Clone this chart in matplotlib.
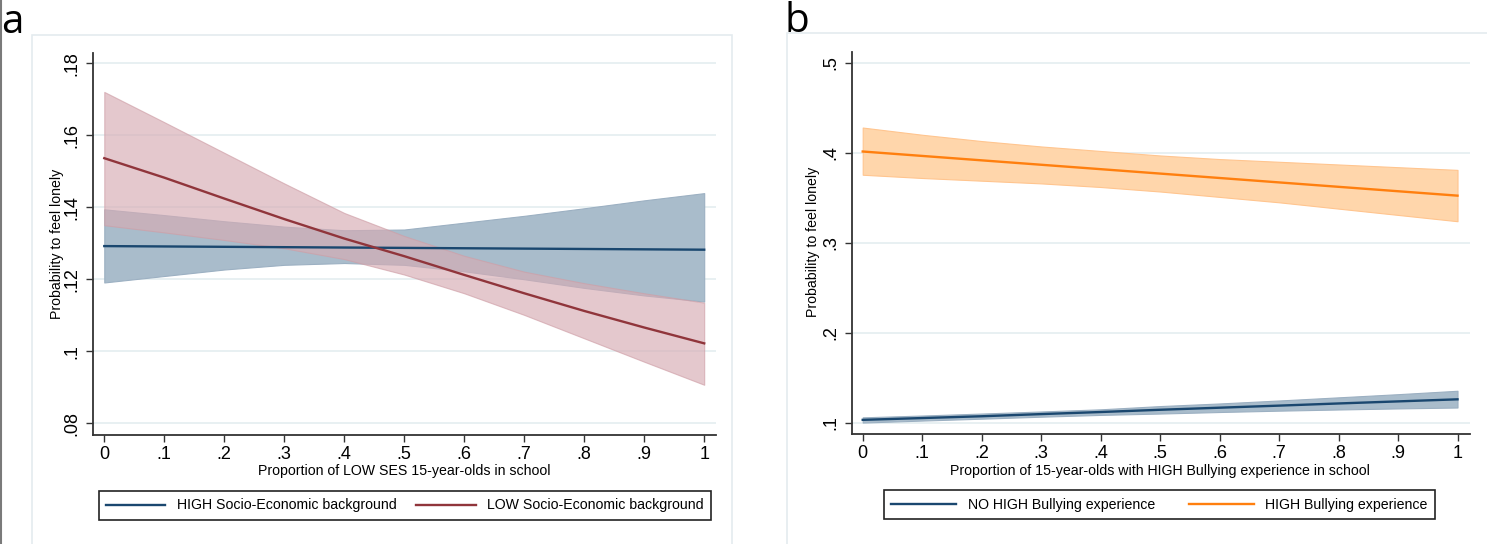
import matplotlib
matplotlib.use("Agg")
import matplotlib.pyplot as plt
from matplotlib.lines import Line2D
from matplotlib.patches import Rectangle

plt.rcParams["font.family"] = ["Liberation Sans", "DejaVu Sans"]

# ---- data ----
x_vals = [0, 0.1, 0.2, 0.3, 0.4, 0.5, 0.6, 0.7, 0.8, 0.9, 1.0]

# panel a: socio-economic background
high_ses = [0.1292, 0.1291, 0.1290, 0.1289, 0.1288, 0.1287, 0.1286, 0.1285, 0.1284, 0.1283, 0.1282]
high_ses_hi = [0.1394, 0.1378, 0.1361, 0.1346, 0.1336, 0.1338, 0.1357, 0.1376, 0.1397, 0.1419, 0.1439]
high_ses_lo = [0.1191, 0.1209, 0.1227, 0.1240, 0.1245, 0.1240, 0.1222, 0.1200, 0.1176, 0.1155, 0.1138]

low_ses = [0.1536, 0.1482, 0.1424, 0.1367, 0.1313, 0.1264, 0.1212, 0.1161, 0.1112, 0.1066, 0.1022]
low_ses_hi = [0.1720, 0.1636, 0.1551, 0.1466, 0.1384, 0.1320, 0.1265, 0.1221, 0.1189, 0.1161, 0.1135]
low_ses_lo = [0.1350, 0.1330, 0.1309, 0.1286, 0.1256, 0.1213, 0.1161, 0.1101, 0.1036, 0.0971, 0.0907]

# panel b: bullying experience
no_bully = [0.1035, 0.1055, 0.1075, 0.1099, 0.1122, 0.1147, 0.1170, 0.1193, 0.1217, 0.1240, 0.1263]
no_bully_hi = [0.1063, 0.1083, 0.1105, 0.1128, 0.1152, 0.1188, 0.1217, 0.1250, 0.1285, 0.1320, 0.1358]
no_bully_lo = [0.1005, 0.1027, 0.1048, 0.1070, 0.1090, 0.1105, 0.1122, 0.1137, 0.1150, 0.1162, 0.1172]

high_bully = [0.4014, 0.3965, 0.3916, 0.3867, 0.3818, 0.3769, 0.3720, 0.3671, 0.3622, 0.3573, 0.3524]
high_bully_hi = [0.428, 0.420, 0.413, 0.407, 0.402, 0.397, 0.393, 0.390, 0.387, 0.384, 0.381]
high_bully_lo = [0.3756, 0.372, 0.369, 0.366, 0.362, 0.357, 0.351, 0.345, 0.338, 0.331, 0.324]

x_ticks = [0, 0.1, 0.2, 0.3, 0.4, 0.5, 0.6, 0.7, 0.8, 0.9, 1.0]
x_tick_labels = ["0", ".1", ".2", ".3", ".4", ".5", ".6", ".7", ".8", ".9", "1"]
a_y_ticks = [0.08, 0.10, 0.12, 0.14, 0.16, 0.18]
a_y_labels = [".08", ".1", ".12", ".14", ".16", ".18"]
b_y_ticks = [0.1, 0.2, 0.3, 0.4, 0.5]
b_y_labels = [".1", ".2", ".3", ".4", ".5"]

NAVY = "#1a476f"
MAROON = "#90353b"
ORANGE = "#ff7f0e"
GRID = "#e8f0f2"
FRAME = "#e4ebef"
W, H = 1487, 544

fig = plt.figure(figsize=(W / 100, H / 100), dpi=100)


def fx(px):
    return px / W


def fy(py):
    return 1 - py / H


# outer graph-region frames and the dark left edge
fig.patches.append(Rectangle((fx(32), fy(560)), fx(732) - fx(32), fy(35) - fy(560),
                             transform=fig.transFigure, fill=False, ec=FRAME, lw=1.2))
fig.patches.append(Rectangle((fx(787), fy(560)), fx(1520) - fx(787), fy(33) - fy(560),
                             transform=fig.transFigure, fill=False, ec=FRAME, lw=1.2))
fig.lines.append(Line2D([fx(0.6), fx(0.6)], [0, 1], transform=fig.transFigure, color="#7a7a7a", lw=1.5))


def style_axes(ax, yticks, ylabels):
    for side in ("top", "right"):
        ax.spines[side].set_visible(False)
    for side in ("left", "bottom"):
        ax.spines[side].set_color("#333333")
        ax.spines[side].set_linewidth(1.3)
    ax.set_xticks(x_ticks)
    ax.set_xticklabels(x_tick_labels)
    ax.set_yticks(yticks)
    ax.set_yticklabels(ylabels, rotation=90, va="center")
    ax.tick_params(axis="both", direction="out", length=5, width=1, color="#333333",
                   labelsize=13, labelcolor="black")
    ax.tick_params(axis="x", pad=3)
    ax.tick_params(axis="y", pad=4)
    ax.yaxis.grid(True, color=GRID, lw=1.4)
    ax.set_axisbelow(True)


# ---- panel a ----
ax_a = fig.add_axes([fx(93.3), fy(434.5), fx(715.6) - fx(93.3), fy(53) - fy(434.5)])
ax_a.fill_between(x_vals, high_ses_lo, high_ses_hi, facecolor="#a9bccb", edgecolor="#9cb0c2", lw=0.8)
ax_a.fill_between(x_vals, low_ses_lo, low_ses_hi, facecolor=(214 / 255, 172 / 255, 180 / 255),
                  alpha=0.66, edgecolor="#cf9ea6", lw=0.8)
ax_a.plot(x_vals, high_ses, color=NAVY, lw=1.7)
ax_a.plot(x_vals, low_ses, color=MAROON, lw=1.7)
ax_a.set_xlim(-0.0183, 1.019)
ax_a.set_ylim(0.0769, 0.1828)
style_axes(ax_a, a_y_ticks, a_y_labels)

fig.text(fx(57), fy(244), "Probability to feel lonely", rotation=90, ha="center", va="center", fontsize=10.2)
fig.text(fx(404), fy(471.5), "Proportion of LOW SES 15-year-olds in school", ha="center", va="center", fontsize=10.2)

handles_a = [Line2D([], [], color=NAVY, lw=1.7), Line2D([], [], color=MAROON, lw=1.7)]
leg_a = ax_a.legend(handles_a, ["HIGH Socio-Economic background", "LOW Socio-Economic background"],
                    loc="center", bbox_to_anchor=(fx(404.7), fy(505.5)), bbox_transform=fig.transFigure,
                    ncol=2, fontsize=10.2, fancybox=False, framealpha=1, edgecolor="#222222",
                    handlelength=4.2, handletextpad=0.8, columnspacing=1.4, borderpad=0.5,
                    borderaxespad=0)
leg_a.get_frame().set_linewidth(1.2)

# ---- panel b ----
ax_b = fig.add_axes([fx(851.7), fy(434), fx(1470) - fx(851.7), fy(51.7) - fy(434)])
ax_b.fill_between(x_vals, no_bully_lo, no_bully_hi, facecolor="#a9bccb", edgecolor="#9cb0c2", lw=0.8)
ax_b.fill_between(x_vals, high_bully_lo, high_bully_hi, facecolor="#ffd6ab", edgecolor="#ffc58f", lw=0.8)
ax_b.plot(x_vals, no_bully, color=NAVY, lw=1.7)
ax_b.plot(x_vals, high_bully, color=ORANGE, lw=1.7)
ax_b.set_xlim(-0.0185, 1.021)
ax_b.set_ylim(0.0878, 0.5122)
style_axes(ax_b, b_y_ticks, b_y_labels)

fig.text(fx(813), fy(242), "Probability to feel lonely", rotation=90, ha="center", va="center", fontsize=10.2)
fig.text(fx(1160), fy(471.5), "Proportion of 15-year-olds with HIGH Bullying experience in school",
         ha="center", va="center", fontsize=10.2)

handles_b = [Line2D([], [], color=NAVY, lw=1.7), Line2D([], [], color=ORANGE, lw=1.7)]
leg_b = ax_b.legend(handles_b, ["NO HIGH Bullying experience", "HIGH Bullying experience"],
                    loc="center", bbox_to_anchor=(fx(1159.5), fy(504.5)), bbox_transform=fig.transFigure,
                    ncol=2, fontsize=10.2, fancybox=False, framealpha=1, edgecolor="#222222",
                    handlelength=4.6, handletextpad=0.8, columnspacing=2.4, borderpad=0.5,
                    borderaxespad=0)
leg_b.get_frame().set_linewidth(1.2)

# panel letters
fig.text(fx(1), fy(33), "a", fontsize=29, family=["Open Sans", "DejaVu Sans"], va="baseline", ha="left")
fig.text(fx(785), fy(32.5), "b", fontsize=29, family=["Open Sans", "DejaVu Sans"], va="baseline", ha="left")

fig.savefig("out.png", dpi=100)
